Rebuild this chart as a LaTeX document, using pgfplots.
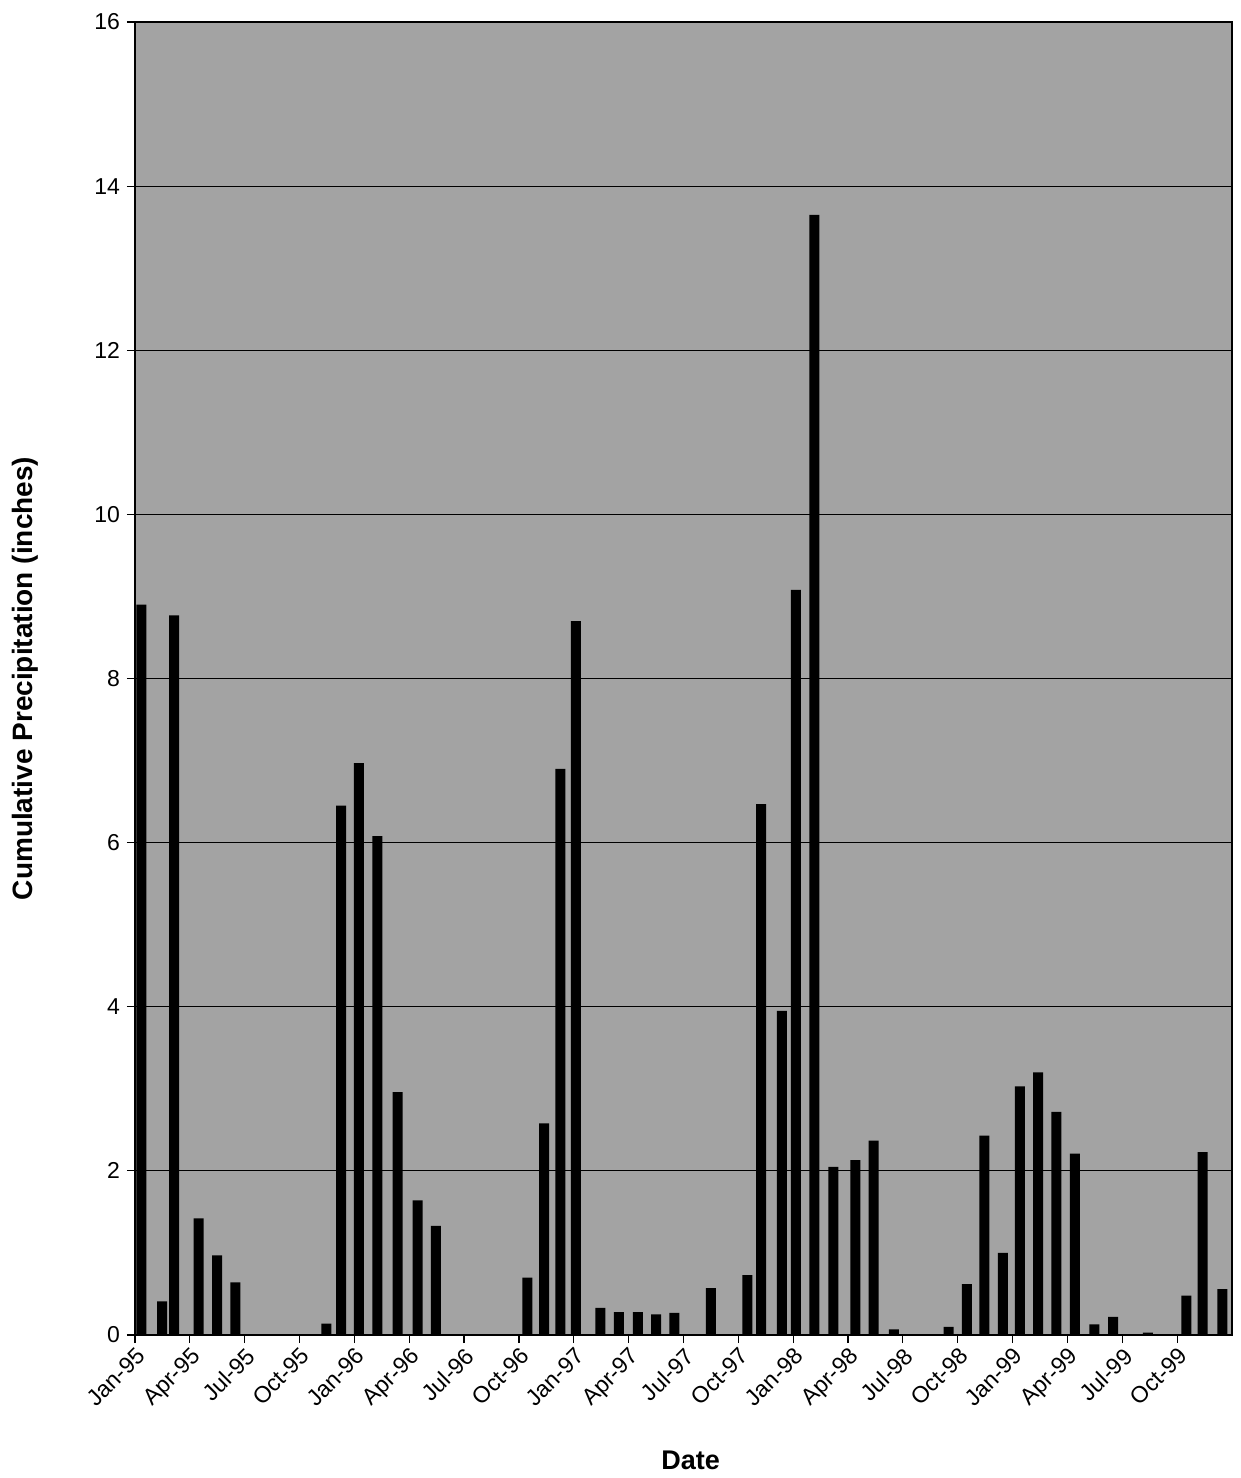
\documentclass[border=0pt]{standalone}
\usepackage{pgfplots}
\pgfplotsset{compat=1.18}
\usepackage{fontspec}
\setmainfont{Liberation Sans}

\begin{document}
\begin{tikzpicture}
\path[use as bounding box] (-67.5pt,-71.5pt) rectangle (553pt,667.5pt);
\begin{axis}[
  at={(0,0)}, anchor=south west,
  scale only axis,
  width=548.5pt, height=656.5pt,
  xmin=0, xmax=60,
  ymin=0, ymax=16,
  ytick={0,2,...,16},
  xtick={0,3,...,57},
  xticklabels={Jan-95,Apr-95,Jul-95,Oct-95,Jan-96,Apr-96,Jul-96,Oct-96,Jan-97,Apr-97,Jul-97,Oct-97,Jan-98,Apr-98,Jul-98,Oct-98,Jan-99,Apr-99,Jul-99,Oct-99},
  xticklabel style={rotate=45, anchor=north east, inner sep=1pt},
  /pgf/number format/assume math mode=true,
  ticklabel style={font=\fontsize{11.5}{13}\selectfont},
  tick align=outside,
  major tick length=4pt,
  xtick pos=bottom, ytick pos=left,
  tick style={black, line width=0.6pt},
  axis line style={black, line width=0.7pt},
  ymajorgrids,
  grid style={black, line width=0.5pt},
  axis background/.style={fill=black!36},
  xlabel={Date},
  ylabel={Cumulative Precipitation (inches)},
  xlabel style={font=\fontsize{13.5}{15}\selectfont\bfseries, at={(axis description cs:0.5066,-0.0952)}, anchor=center},
  ylabel style={font=\fontsize{14}{16}\selectfont\bfseries, at={(axis description cs:-0.1003,0.5)}, anchor=center},
]
\addplot[ybar, bar width=5pt, fill=black, draw=none] coordinates {
  (0.35,8.90) (1.48,0.41) (2.14,8.77) (3.48,1.42) (4.49,0.97) (5.49,0.64)
  (10.47,0.14) (11.28,6.45) (12.25,6.97) (13.26,6.08) (14.37,2.96) (15.46,1.64) (16.46,1.33)
  (21.46,0.70) (22.38,2.58) (23.26,6.90) (24.12,8.70)
  (25.45,0.33) (26.46,0.28) (27.50,0.28) (28.50,0.25) (29.50,0.27)
  (31.50,0.57) (33.50,0.73) (34.25,6.47) (35.38,3.95) (36.15,9.08) (37.16,13.65)
  (38.20,2.05) (39.40,2.13) (40.40,2.37) (41.50,0.07)
  (44.50,0.10) (45.50,0.62) (46.46,2.43) (47.47,1.00) (48.40,3.03) (49.40,3.20)
  (50.40,2.72) (51.40,2.21) (52.47,0.13) (53.50,0.22) (55.40,0.03)
  (57.50,0.48) (58.40,2.23) (59.47,0.56)
};
\end{axis}
\end{tikzpicture}
\end{document}
